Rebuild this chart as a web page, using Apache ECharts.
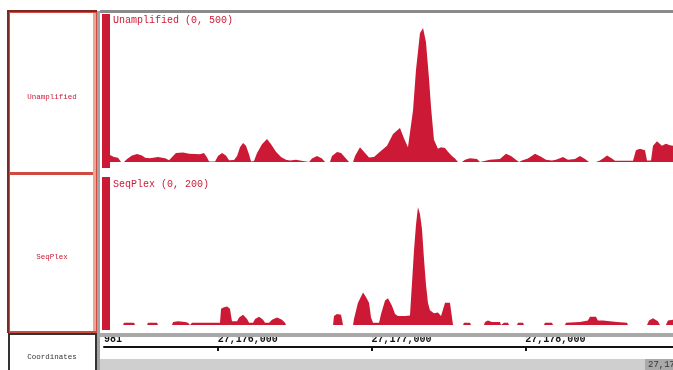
<!DOCTYPE html>
<html>
<head>
<meta charset="utf-8">
<script src="https://cdn.jsdelivr.net/npm/echarts@6/dist/echarts.min.js"></script>
<style>
  html, body { margin: 0; padding: 0; background: #fff; }
  #chart { width: 673px; height: 370px; }
</style>
</head>
<body>
<div id="chart"></div>
<script>
// genomic window, positions are bp offsets from regionStart
const regionStart = 27175300;
const regionEnd = 3660;

const trackNames = ["Unamplified", "SeqPlex"];
const trackRanges = [500, 200];

// Unamplified coverage: [bp offset, depth]
const unampPos = [0, 26, 52, 72, 91, 111, 143, 176, 208, 228, 260, 312, 358, 384, 397, 410, 429, 475, 514, 553,
  585, 611, 631, 644, 683, 702, 728, 754, 774, 806, 826, 845, 865, 884, 904, 917, 936, 956, 988, 1021,
  1047, 1079, 1112, 1144, 1170, 1209, 1235, 1248, 1294, 1313, 1346, 1378, 1398, 1430, 1443, 1476, 1502, 1534, 1554, 1580,
  1593, 1625, 1658, 1684, 1716, 1755, 1801, 1840, 1885, 1911, 1937, 1950, 1970, 1989, 2015, 2035, 2054, 2074, 2087, 2106,
  2132, 2152, 2178, 2197, 2223, 2243, 2262, 2288, 2308, 2340, 2386, 2405, 2418, 2470, 2535, 2574, 2607, 2639, 2659, 2678,
  2717, 2763, 2802, 2834, 2873, 2899, 2945, 2977, 3023, 3055, 3088, 3114, 3159, 3185, 3205, 3231, 3263, 3283, 3348, 3400,
  3419, 3445, 3478, 3491, 3517, 3530, 3556, 3588, 3614, 3640, 3660];
const unampVal = [24, 17, 14, 0, 0, 10, 22, 27, 22, 14, 13, 17, 13, 6, 0, 20, 30, 32, 28, 27,
  26, 30, 15, 2, 2, 20, 30, 22, 6, 7, 20, 50, 64, 55, 25, 2, 3, 30, 60, 78,
  60, 35, 17, 8, 5, 8, 5, 0, 0, 12, 20, 12, 0, 0, 20, 34, 30, 12, 0, 0,
  20, 50, 30, 15, 17, 35, 55, 95, 115, 80, 50, 55, 175, 310, 435, 453, 405, 280, 185, 75,
  45, 50, 47, 35, 20, 12, 0, 0, 8, 13, 10, 0, 5, 8, 10, 28, 20, 8, 0, 5,
  12, 28, 18, 8, 5, 8, 17, 8, 10, 20, 10, 0, 0, 5, 12, 22, 12, 4, 4, 4,
  40, 45, 40, 5, 5, 55, 70, 55, 62, 57, 55];

// SeqPlex coverage: [bp offset, depth]
const seqPos = [85, 91, 156, 163, 241, 247, 306, 312, 403, 410, 442, 488, 507, 520, 533, 715, 722, 741, 761, 780,
  793, 826, 839, 865, 891, 904, 930, 943, 969, 995, 1008, 1034, 1053, 1086, 1118, 1138, 1144, 1450, 1456, 1476,
  1502, 1515, 1580, 1586, 1612, 1645, 1664, 1684, 1697, 1710, 1749, 1762, 1788, 1807, 1833, 1853, 1872, 1918, 1950, 1963,
  1976, 1989, 2002, 2015, 2028, 2041, 2054, 2067, 2080, 2106, 2132, 2152, 2165, 2178, 2210, 2223, 2230, 2295, 2301, 2340,
  2347, 2431, 2438, 2457, 2483, 2535, 2542, 2555, 2561, 2587, 2594, 2646, 2652, 2685, 2691, 2821, 2828, 2873, 2880, 2958,
  2964, 3055, 3107, 3120, 3159, 3172, 3205, 3250, 3296, 3361, 3367, 3491, 3504, 3530, 3562, 3575, 3614, 3627, 3660];
const seqVal = [0, 3, 3, 0, 0, 3, 3, 0, 0, 4, 5, 4, 3, 0, 3, 3, 22, 24, 25, 22,
  5, 5, 10, 14, 8, 3, 3, 8, 11, 7, 3, 3, 7, 10, 7, 3, 0, 0, 12, 15,
  14, 0, 0, 8, 30, 44, 38, 30, 10, 3, 3, 15, 33, 36, 26, 15, 12, 12, 13, 56,
  100, 135, 159, 150, 130, 90, 55, 30, 20, 16, 17, 12, 14, 30, 30, 28, 0, 0, 3, 3,
  0, 0, 4, 6, 4, 4, 0, 0, 3, 3, 0, 0, 3, 3, 0, 0, 3, 3, 0, 0,
  3, 4, 6, 11, 11, 6, 6, 5, 4, 3, 0, 0, 6, 9, 5, 0, 0, 6, 7];

// coordinate ruler
const tickValues = [-40, 700, 1700, 2700];
const tickLabels = ["981", "27,176,000", "27,177,000", "27,178,000"];

const red = "#cc1a36";
const mono = "'Liberation Mono', 'DejaVu Sans Mono', monospace";

function pairs(xs, ys) {
  return xs.map((x, i) => [x, ys[i]]);
}

const chart = echarts.init(document.getElementById("chart"), null, { renderer: "canvas" });

const trackGrids = [
  { left: 110, right: 0, top: 14, height: 148 },
  { left: 110, right: 0, top: 177, height: 148 },
];

function trackSeries(idx, xs, ys) {
  return {
    type: "line",
    xAxisIndex: idx,
    yAxisIndex: idx,
    data: pairs(xs, ys),
    symbol: "none",
    silent: true,
    lineStyle: { width: 0 },
    areaStyle: { color: red, opacity: 1 },
    z: 3,
  };
}

chart.setOption({
  animation: false,
  backgroundColor: "#fff",
  grid: [
    trackGrids[0],
    trackGrids[1],
    { left: 104, right: 0, top: 346, height: 1 },
  ],
  xAxis: [
    { type: "value", gridIndex: 0, min: 0, max: regionEnd, show: false },
    { type: "value", gridIndex: 1, min: 0, max: regionEnd, show: false },
    {
      type: "value",
      gridIndex: 2,
      min: -40,
      max: regionEnd,
      axisLine: { show: true, lineStyle: { color: "#111", width: 2 } },
      axisTick: { show: true, customValues: tickValues.slice(1), length: 4, lineStyle: { color: "#111", width: 2 } },
      splitLine: { show: false },
      axisLabel: {
        inside: true,
        customValues: tickValues,
        margin: 3,
        align: "left",
        color: "#111",
        fontWeight: "bold",
        fontFamily: mono,
        fontSize: 10,
        formatter: (v) => tickLabels[tickValues.indexOf(v)] || "",
      },
    },
  ],
  yAxis: [
    { type: "value", gridIndex: 0, min: 0, max: trackRanges[0], show: false },
    { type: "value", gridIndex: 1, min: 0, max: trackRanges[1], show: false },
    { type: "value", gridIndex: 2, min: 0, max: 1, show: false },
  ],
  series: [
    trackSeries(0, unampPos, unampVal),
    trackSeries(1, seqPos, seqVal),
    { type: "line", xAxisIndex: 2, yAxisIndex: 2, data: [], symbol: "none" },
  ],
  graphic: [
    // name panels
    { type: "rect", shape: { x: 9, y: 12, width: 87, height: 161 }, style: { fill: "#fff", stroke: "#cf4a40", lineWidth: 2 }, z: 1 },
    { type: "rect", shape: { x: 9, y: 174, width: 87, height: 158 }, style: { fill: "#fff", stroke: "#cf4a40", lineWidth: 2 }, z: 1 },
    { type: "rect", shape: { x: 93, y: 13, width: 3, height: 318 }, style: { fill: "#eca593" }, z: 2 },
    { type: "polyline", shape: { points: [[8, 333], [8, 11], [97, 11]] }, style: { stroke: "#7a2a25", lineWidth: 2, fill: null }, z: 2 },
    { type: "rect", shape: { x: 9, y: 334, width: 87, height: 40 }, style: { fill: "#fff", stroke: "#333", lineWidth: 2 }, z: 1 },
    { type: "text", x: 52, y: 97, style: { text: trackNames[0], fill: red, font: "7.5px " + mono, align: "center", verticalAlign: "middle" }, z: 2 },
    { type: "text", x: 52, y: 257, style: { text: trackNames[1], fill: red, font: "7.5px " + mono, align: "center", verticalAlign: "middle" }, z: 2 },
    { type: "text", x: 52, y: 357, style: { text: "Coordinates", fill: "#333", font: "7.5px " + mono, align: "center", verticalAlign: "middle" }, z: 2 },
    // separators
    { type: "rect", shape: { x: 97, y: 11, width: 3, height: 359 }, style: { fill: "#a3a3a3" }, z: 2 },
    { type: "rect", shape: { x: 100, y: 10, width: 573, height: 3 }, style: { fill: "#8a8a8a" }, z: 2 },
    // data range bars at the left edge of each track
    { type: "rect", shape: { x: 102, y: 14, width: 8, height: 154 }, style: { fill: red }, z: 2 },
    { type: "rect", shape: { x: 102, y: 177, width: 8, height: 153 }, style: { fill: red }, z: 2 },
    { type: "text", x: 113, y: 20, style: { text: trackNames[0] + " (0, " + trackRanges[0] + ")", fill: red, font: "10px " + mono, verticalAlign: "middle" }, z: 4 },
    { type: "text", x: 113, y: 184, style: { text: trackNames[1] + " (0, " + trackRanges[1] + ")", fill: red, font: "10px " + mono, verticalAlign: "middle" }, z: 4 },
    // ruler bands
    { type: "rect", shape: { x: 100, y: 333, width: 573, height: 4 }, style: { fill: "#a8a8a8" }, z: 2 },
    { type: "rect", shape: { x: 100, y: 359, width: 573, height: 11 }, style: { fill: "#cfcfcf" }, z: 2 },
    { type: "rect", shape: { x: 645, y: 359, width: 28, height: 11 }, style: { fill: "#a9a9a9" }, z: 2 },
    { type: "text", x: 648, y: 365, style: { text: "27,178,960", fill: "#333", font: "9px " + mono, verticalAlign: "middle" }, z: 3 },
  ],
});
</script>
</body>
</html>
